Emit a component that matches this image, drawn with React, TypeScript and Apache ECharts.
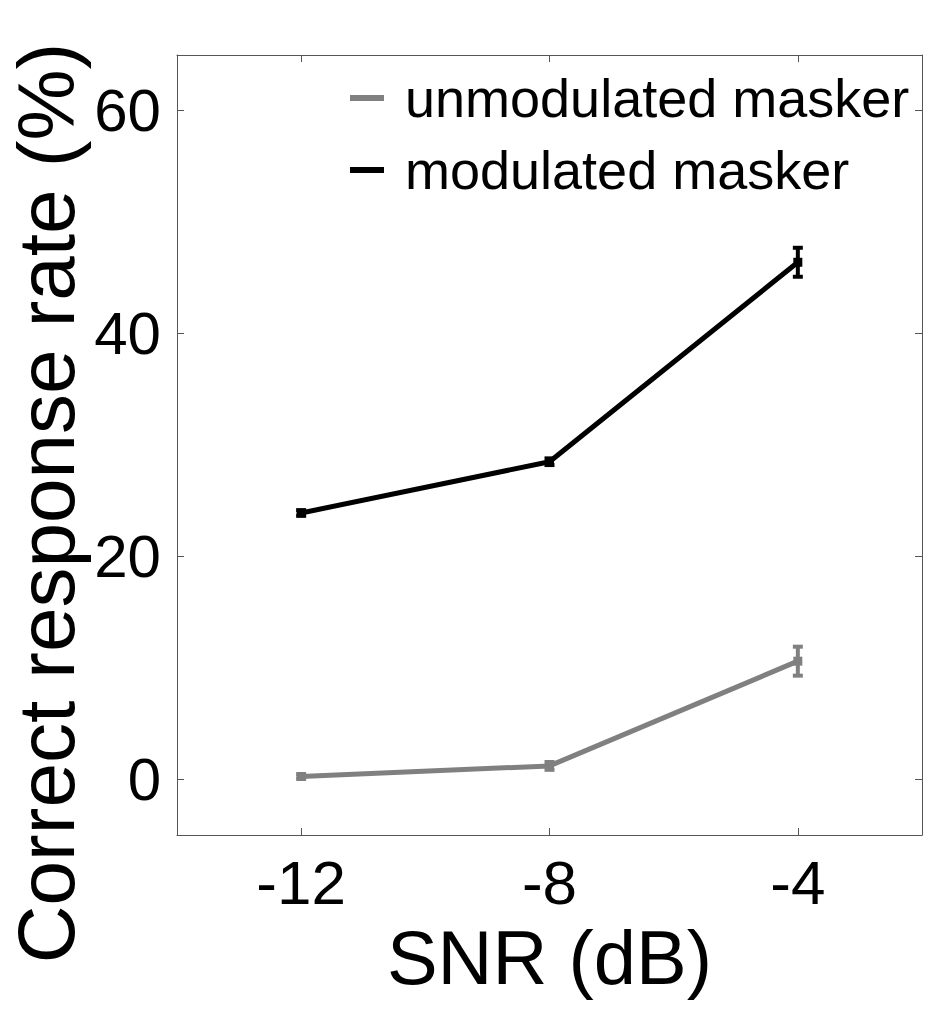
import React, { useEffect, useRef } from "react";
import * as echarts from "echarts";

const snr = [-12, -8, -4];
const unmodMean = [0.25, 1.2, 10.6];
const unmodErr = [0.2, 0.35, 1.3];
const modMean = [23.9, 28.5, 46.4];
const modErr = [0.25, 0.3, 1.3];
const xTicks = [-12, -8, -4];
const yTicks = [0, 20, 40, 60];
const seriesNames = ["unmodulated masker", "modulated masker"];
const yTitle = "Correct response rate (%)";
const xTitle = "SNR (dB)";

const FONT = "'Liberation Sans', Arial, Helvetica, sans-serif";
const GRAY = "#808080";
const BLACK = "#000000";
const AXIS = "#555555";

function errData(mean: number[], err: number[]) {
  return snr.map((x, i) => [x, mean[i] - err[i], mean[i] + err[i]]);
}

function errRender(color: string) {
  return (params: any, api: any) => {
    const x = api.value(0);
    const lo = api.coord([x, api.value(1)]);
    const hi = api.coord([x, api.value(2)]);
    const hw = 5;
    const style = { stroke: color, lineWidth: 4 };
    return {
      type: "group",
      children: [
        { type: "line", shape: { x1: lo[0], y1: lo[1], x2: hi[0], y2: hi[1] }, style },
        { type: "line", shape: { x1: lo[0] - hw, y1: lo[1], x2: lo[0] + hw, y2: lo[1] }, style },
        { type: "line", shape: { x1: hi[0] - hw, y1: hi[1], x2: hi[0] + hw, y2: hi[1] }, style },
      ],
    };
  };
}

export default function App() {
  const ref = useRef<HTMLDivElement>(null);
  useEffect(() => {
    if (!ref.current) return;
    const chart = echarts.init(ref.current, null, { renderer: "svg" });
    const lineCommon = { show: true, onZero: false, lineStyle: { color: AXIS, width: 1 } };
    chart.setOption({
      animation: false,
      backgroundColor: "#ffffff",
      grid: {
        left: 177,
        top: 55,
        width: 745,
        height: 780,
        containLabel: false,
        outerBoundsMode: "none",
      },
      graphic: [
        {
          type: "text",
          x: 46,
          y: 503,
          rotation: Math.PI / 2,
          style: {
            text: yTitle,
            font: `80px ${FONT}`,
            fill: "#000",
            textAlign: "center",
            textVerticalAlign: "middle",
          },
        },
      ],
      legend: {
        orient: "vertical",
        left: 345,
        top: 66,
        itemWidth: 34,
        itemHeight: 6,
        itemGap: 18,
        icon: "rect",
        data: seriesNames,
        textStyle: { fontFamily: FONT, fontSize: 54, color: "#000", padding: [0, 0, 0, 16] },
        selectedMode: false,
      },
      xAxis: [
        {
          type: "value",
          min: -14,
          max: -2,
          position: "bottom",
          name: xTitle,
          nameLocation: "middle",
          nameGap: 84,
          nameTextStyle: { fontFamily: FONT, fontSize: 76, color: "#000" },
          axisLine: lineCommon,
          axisTick: { show: true, inside: true, length: 7, customValues: xTicks, lineStyle: { color: AXIS } },
          axisLabel: { customValues: xTicks, fontFamily: FONT, fontSize: 62, color: "#000", margin: 16 },
          splitLine: { show: false },
        },
        {
          type: "value",
          min: -14,
          max: -2,
          position: "top",
          axisLine: lineCommon,
          axisLabel: { show: false },
          splitLine: { show: false },
          axisTick: { show: true, inside: true, length: 7, customValues: xTicks, lineStyle: { color: AXIS } },
        },
      ],
      yAxis: [
        {
          type: "value",
          min: -5,
          max: 65,
          position: "left",
          axisLine: lineCommon,
          axisTick: { show: true, inside: true, length: 7, customValues: yTicks, lineStyle: { color: AXIS } },
          axisLabel: { customValues: yTicks, fontFamily: FONT, fontSize: 60, color: "#000", margin: 16 },
          splitLine: { show: false },
        },
        {
          type: "value",
          min: -5,
          max: 65,
          position: "right",
          axisLine: lineCommon,
          axisLabel: { show: false },
          splitLine: { show: false },
          axisTick: { show: true, inside: true, length: 7, customValues: yTicks, lineStyle: { color: AXIS } },
        },
      ],
      series: [
        {
          name: seriesNames[0],
          type: "line",
          data: snr.map((x, i) => [x, unmodMean[i]]),
          lineStyle: { color: GRAY, width: 5 },
          itemStyle: { color: GRAY },
          symbol: "rect",
          symbolSize: 9,
          z: 3,
        },
        {
          name: seriesNames[1],
          type: "line",
          data: snr.map((x, i) => [x, modMean[i]]),
          lineStyle: { color: BLACK, width: 5 },
          itemStyle: { color: BLACK },
          symbol: "rect",
          symbolSize: 9,
          z: 3,
        },
        {
          type: "custom",
          renderItem: errRender(GRAY),
          data: errData(unmodMean, unmodErr),
          encode: { x: 0, y: [1, 2] },
          z: 4,
        },
        {
          type: "custom",
          renderItem: errRender(BLACK),
          data: errData(modMean, modErr),
          encode: { x: 0, y: [1, 2] },
          z: 4,
        },
      ],
    });
    return () => chart.dispose();
  }, []);
  return (
    <div
      ref={ref}
      style={{ position: "fixed", left: 0, top: 0, width: 927, height: 1011 }}
    />
  );
}
